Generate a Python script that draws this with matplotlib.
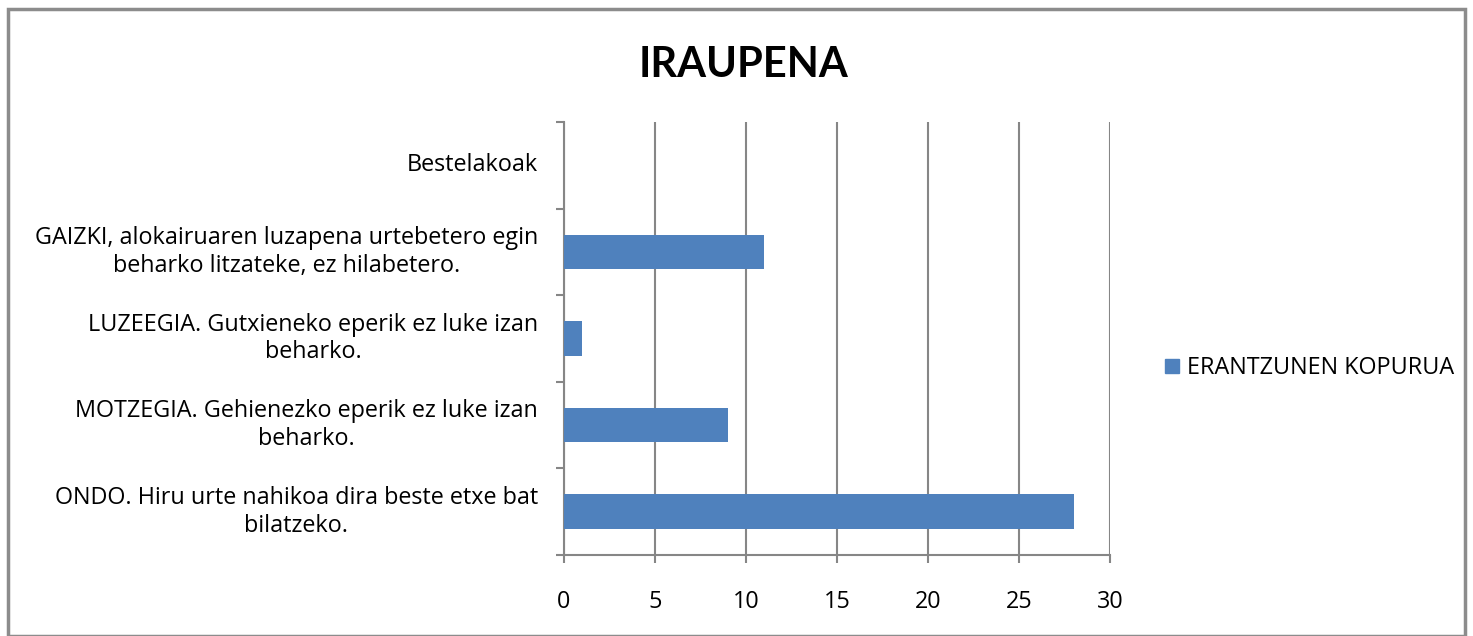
import matplotlib
matplotlib.use("Agg")
import matplotlib.pyplot as plt
import matplotlib.transforms as mtransforms
from matplotlib.patches import Rectangle
from matplotlib.lines import Line2D

categories = [
    "ONDO. Hiru urte nahikoa dira beste etxe bat\nbilatzeko.",
    "MOTZEGIA. Gehienezko eperik ez luke izan\nbeharko.",
    "LUZEEGIA. Gutxieneko eperik ez luke izan\nbeharko.",
    "GAIZKI, alokairuaren luzapena urtebetero egin\nbeharko litzateke, ez hilabetero.",
    "Bestelakoak",
]
values = [28, 9, 1, 11, 0]
series_name = "ERANTZUNEN KOPURUA"
title = "IRAUPENA"
xticks = [0, 5, 10, 15, 20, 25, 30]

plt.rcParams['font.family'] = ['Open Sans', 'DejaVu Sans']
FS = 16.8

W, H = 1473, 636
fig = plt.figure(figsize=(W / 100, H / 100), dpi=100)
ax_l, ax_r, ax_t, ax_b = 564, 1110, 122, 555
ax = fig.add_axes([ax_l / W, 1 - ax_b / H, (ax_r - ax_l) / W, (ax_b - ax_t) / H])

grid_col = "#868686"
bar_col = "#4F81BD"

ypos = list(range(len(categories)))
ax.barh(ypos, values, height=0.4, color=bar_col, zorder=3)
ax.set_xlim(0, 30)
ax.set_ylim(-0.5, len(categories) - 0.5)
ax.set_xticks(xticks)
ax.set_xticklabels([str(t) for t in xticks], fontsize=FS)
ax.set_yticks([y - 0.5 for y in range(len(categories) + 1)])
ax.set_yticklabels([])

trans = mtransforms.blended_transform_factory(ax.transAxes, ax.transData)
label_x = (538 - ax_l) / (ax_r - ax_l)
for y, lab in zip(ypos, categories):
    ax.text(label_x, y, lab, transform=trans, fontsize=FS, ha='right',
            va='center', multialignment='center', linespacing=1.2)

ax.tick_params(axis='y', which='major', length=6, width=1.5, color=grid_col)
ax.tick_params(axis='x', length=6, width=1.5, color=grid_col, pad=19)
ax.grid(axis='x', color=grid_col, linewidth=1.5, zorder=0)
for s in ['top', 'right']:
    ax.spines[s].set_visible(False)
for s in ['left', 'bottom']:
    ax.spines[s].set_color(grid_col)
    ax.spines[s].set_linewidth(1.5)

fig.text(744 / W, 1 - 65 / H, title, fontsize=30, fontweight='bold',
         family=['Lato', 'DejaVu Sans'], ha='center', va='center')

handle = Line2D([], [], marker='s', linestyle='none', markersize=10,
                markerfacecolor=bar_col, markeredgecolor=bar_col)
fig.legend([handle], [series_name], loc='center left',
           bbox_to_anchor=(1139 / W, 1 - 368 / H), frameon=False,
           fontsize=FS, handletextpad=0.15, handlelength=1.0)

fig.patches.append(Rectangle((8 / W, 0), (W - 16) / W, 1 - 9 / H,
                             transform=fig.transFigure, fill=False,
                             edgecolor="#8c8c8c", linewidth=2.5))

fig.savefig("out.png", dpi=100)
